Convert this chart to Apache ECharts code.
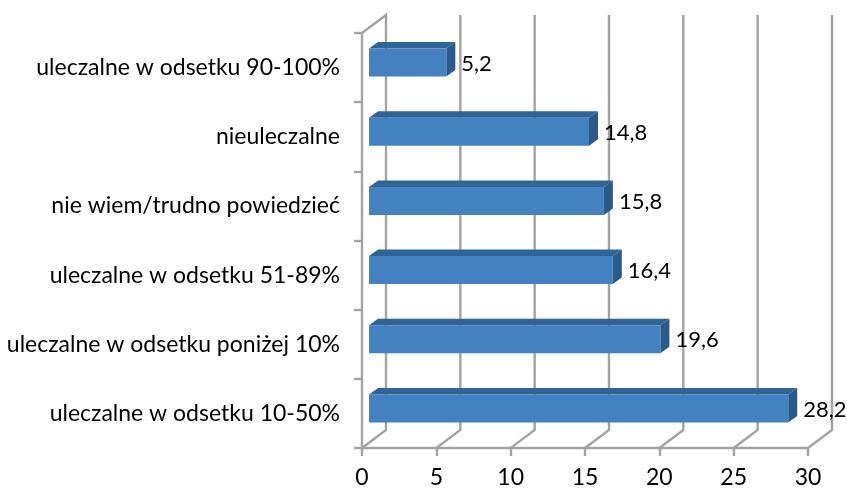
<!DOCTYPE html>
<html><head><meta charset="utf-8">
<style>html,body{margin:0;padding:0;background:#fff}#c{width:847px;height:488px}</style>
<script src="https://cdn.jsdelivr.net/npm/echarts@6/dist/echarts.min.js"></script>
</head><body><div id="c"></div>
<script>
const categories = ['uleczalne w odsetku 10-50%','uleczalne w odsetku poniżej 10%','uleczalne w odsetku 51-89%','nie wiem/trudno powiedzieć','nieuleczalne','uleczalne w odsetku 90-100%'];
const values = [28.2,19.6,16.4,15.8,14.8,5.2];
const xTicks = [0,5,10,15,20,25,30];
const wallDx = 24, wallDy = -18;
const barInsetX = 7, barInsetY = -5, barDepthX = 9, barDepthY = -6.5, barHeight = 28;
const gridColor = '#a3a3a3';
const chart = echarts.init(document.getElementById('c'));
function pts(p){return {points:p};}
chart.setOption({
  animation:false,
  textStyle:{fontFamily:'Lato'},
  grid:{left:362,right:39,top:33,bottom:40,outerBoundsMode:'none'},
  xAxis:{type:'value',min:0,max:30,interval:5,
    axisLine:{show:true,lineStyle:{color:gridColor,width:2.4}},
    axisTick:{show:true,length:8,lineStyle:{color:gridColor,width:2.4}},
    splitLine:{show:false},
    axisLabel:{color:'#000',fontSize:23,margin:18,fontFamily:'Lato'}},
  yAxis:{type:'category',data:categories,
    axisLine:{show:true,lineStyle:{color:gridColor,width:2.4}},
    axisTick:{show:true,length:8,alignWithLabel:false,lineStyle:{color:gridColor,width:2.4}},
    axisLabel:{color:'#000',fontSize:23,margin:22,fontFamily:'Lato'}},
  series:[
    {type:'custom',z:1,silent:true,clip:false,data:xTicks.map(v=>[v,0]),encode:{x:0},
     renderItem(params,api){
       const v=api.value(0), cs=params.coordSys;
       const x=api.coord([v,0])[0], top=cs.y, bot=cs.y+cs.height;
       const style={stroke:gridColor,lineWidth:2.4,fill:null};
       return {type:'polyline',shape:pts([[x,bot],[x+wallDx,bot+wallDy],[x+wallDx,top+wallDy]].concat(v===0?[[x,top]]:[])),style};
     }},
    {type:'custom',z:3,silent:true,clip:false,
     data:values.map((v,i)=>[v,i]),encode:{x:0,y:1},
     renderItem(params,api){
       const v=api.value(0), i=api.value(1);
       const c0=api.coord([0,i]), c1=api.coord([v,i]);
       const xL=c0[0]+barInsetX, xR=c1[0]+barInsetX;
       const yc=c0[1]+barInsetY, yT=yc-barHeight/2, yB=yc+barHeight/2;
       return {type:'group',children:[
         {type:'polygon',shape:pts([[xL,yT],[xL+barDepthX,yT+barDepthY],[xR+barDepthX,yT+barDepthY],[xR,yT]]),style:{fill:'#2f6596'}},
         {type:'polygon',shape:pts([[xR,yT],[xR+barDepthX,yT+barDepthY],[xR+barDepthX,yB+barDepthY],[xR,yB]]),style:{fill:'#285a8a'}},
         {type:'rect',shape:{x:xL,y:yT,width:xR-xL,height:barHeight},style:{fill:'#4481c0'}},
         {type:'text',style:{text:String(v).replace('.',','),x:xR+15,y:yc+1,fill:'#000',font:'22px Lato',textAlign:'left',textVerticalAlign:'middle'}}
       ]};
     }}
  ]
});
</script></body></html>
